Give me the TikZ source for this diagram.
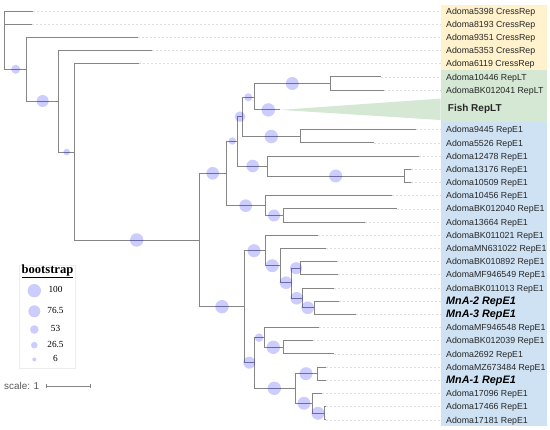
\documentclass[tikz,border=0pt]{standalone}
\usepackage{fontspec}
\setmainfont{Liberation Sans}
\newfontfamily\serifhere{Liberation Serif}
\newcommand\mnfont{\fontsize{10.8}{11}\selectfont\bfseries\itshape\color{black}}
\definecolor{yel}{HTML}{FFF2CC}
\definecolor{grn}{HTML}{D5E8D4}
\definecolor{blu}{HTML}{CFE2F3}
\definecolor{brc}{HTML}{858585}
\begin{document}
\begin{tikzpicture}[x=1pt,y=-1pt,
 branch/.style={draw=brc,line width=0.9pt},
 leader/.style={draw=black!13,line width=0.6pt,dash pattern=on 2pt off 2pt},
 bubble/.style={circle,fill=blue,fill opacity=0.2,inner sep=0pt,minimum size=#1},
 lab/.style={anchor=west,inner xsep=5.3pt,inner ysep=0pt,text height=6.3pt,text depth=0pt,font=\fontsize{8.8}{9}\selectfont,text=black!85},
 legnum/.style={font=\serifhere\fontsize{9.3}{10}\selectfont,inner sep=0pt,text height=4.5pt,text depth=0pt},
]
\useasboundingbox (0,0) rectangle (550,430);
% label backgrounds
\fill[yel] (440.7,5) rectangle (546.7,70);
\fill[grn] (440.7,70) rectangle (546.7,122);
\fill[blu] (440.7,122) rectangle (546.7,426);
% internal nodes
\coordinate (R0) at (4.7,40);
\coordinate (A) at (26.3,69.3);
\coordinate (B) at (58.7,101);
\coordinate (C) at (74.3,152);
\coordinate (D) at (199.3,240);
\coordinate (E) at (226.7,173.3);
\coordinate (F) at (237.7,141);
\coordinate (G) at (242.3,116.7);
\coordinate (H) at (254,97.3);
\coordinate (I) at (330.7,83.5);
\coordinate (fish) at (280,109.9);
\coordinate (J) at (300.7,136.3);
\coordinate (K) at (267.3,166);
\coordinate (L) at (404,176);
\coordinate (M) at (265,205.7);
\coordinate (N) at (283.3,215.5);
\coordinate (O) at (244.3,306.7);
\coordinate (W) at (265,250.7);
\coordinate (X) at (280,265.7);
\coordinate (Y) at (291,282.7);
\coordinate (Z) at (300.7,268.2);
\coordinate (AA) at (302.3,298.3);
\coordinate (AB) at (314.3,307.8);
\coordinate (P) at (254,362.7);
\coordinate (Q) at (264,337.7);
\coordinate (R) at (283.3,347.3);
\coordinate (S) at (295,388.3);
\coordinate (T) at (317.7,373.7);
\coordinate (U) at (312.7,403.3);
\coordinate (V) at (324,413.3);
% fish wedge
\fill[grn] (fish) -- (440.7,98.6) -- (440.7,120) -- cycle;
\node[anchor=west,inner sep=0pt,text height=7pt,text depth=0pt,font=\fontsize{10}{11}\selectfont\bfseries,text=black!85] (fishlab) at (447.7,108.3) {Fish RepLT};
% leaves and labels
\foreach \i/\k/\x/\t in {
0/0/33.3/Adoma5398 CressRep,
1/1/31.7/Adoma8193 CressRep,
2/2/137.7/Adoma9351 CressRep,
3/3/151.7/Adoma5353 CressRep,
4/4/139.3/Adoma6119 CressRep,
5/5/381/Adoma10446 RepLT,
6/6/384.3/AdomaBK012041 RepLT,
7/9/416/Adoma9445 RepE1,
8/10/374.3/Adoma5526 RepE1,
9/11/419/Adoma12478 RepE1,
10/12/410.7/Adoma13176 RepE1,
11/13/410.7/Adoma10509 RepE1,
12/14/391.7/Adoma10456 RepE1,
13/15/397.3/AdomaBK012040 RepE1,
14/16/365/Adoma13664 RepE1,
15/17/317.7/AdomaBK011021 RepE1,
16/18/325.7/AdomaMN631022 RepE1,
17/19/336.7/AdomaBK010892 RepE1,
18/20/338.3/AdomaMF946549 RepE1,
19/21/334/AdomaBK011013 RepE1,
20/22/339.3/{\mnfont MnA-2 RepE1},
21/23/355.7/{\mnfont MnA-3 RepE1},
22/24/319.3/AdomaMF946548 RepE1,
23/25/312.7/AdomaBK012039 RepE1,
24/26/334/Adoma2692 RepE1,
25/27/325.7/AdomaMZ673484 RepE1,
26/28/325.7/{\mnfont MnA-1 RepE1},
27/29/321.7/Adoma17096 RepE1,
28/30/326/Adoma17466 RepE1,
29/31/326/Adoma17181 RepE1}{
  \coordinate (l\i) at (\x,{11+13.19*\k});
  \node[lab] (t\i) at (440.7,{11+13.19*\k}) {\t};
  \draw[leader] (l\i) -- (t\i.west);
}
% branches
\foreach \p/\c in {R0/l0,R0/l1,R0/A,A/l2,A/B,B/l3,B/C,C/l4,C/D,D/E,D/O,E/F,E/M,F/G,F/K,G/H,G/J,H/I,H/fish,I/l5,I/l6,J/l7,J/l8,K/l9,K/L,L/l10,L/l11,M/l12,M/N,N/l13,N/l14,O/W,O/P,W/l15,W/X,X/l16,X/Y,Y/Z,Y/AA,Z/l17,Z/l18,AA/l19,AA/AB,AB/l20,AB/l21,P/Q,P/S,Q/l22,Q/R,R/l23,R/l24,S/T,S/U,T/l25,T/l26,U/l27,U/V,V/l28,V/l29}{
  \draw[branch] (\p) |- (\c);
}
% bootstrap bubbles
\foreach \n/\x/\y/\r in {1/15.7/69.3/4.5,2/42.7/101/6,3/66.7/152/3.3,4/136.7/240/6.7,5/212.7/173.3/6.3,6/222/306.7/6.7,7/232.3/141/3.7,8/245.7/205.7/6.3,9/240/116.7/5.3,10/252.7/166/6.3,11/248.3/97.3/4,12/271.3/136.5/6.7,13/292.3/83.5/6.5,14/268.3/109.9/6.7,15/335.7/176/6.5,16/274/215.5/6,17/254/250.7/6.5,18/249.3/362.7/6,19/272.3/265.7/6.5,20/286/282.7/6.3,21/296/268.2/6,22/296.7/298.3/6.3,23/307.7/307.8/6.3,24/259/337.7/4.3,25/273.3/347.3/6.7,26/274.3/388.3/6.7,27/306/373.7/6.5,28/304/403.3/6.5,29/318/413.3/6.5}{
  \node[bubble=2*\r pt] (bb\n) at (\x,\y) {};
}
% legend
\draw[black!7,line width=0.5pt] (19,265) rectangle (75,368.3);
\node[font=\serifhere\bfseries\fontsize{12.6}{13}\selectfont,inner sep=0pt] (bt) at (47.5,271) {\underline{bootstrap}};
\foreach \n/\y/\r/\v in {1/290.7/6.7/100,2/311.3/6/76.5,3/329.5/4.3/53,4/345.2/3.3/26.5,5/359.5/2/6}{
  \node[bubble=2*\r pt] (lg\n) at (34.3,\y) {};
  \node[legnum] (lv\n) at (55.5,\y) {\v};
}
% scale
\node[anchor=west,inner sep=0pt,text height=7pt,text depth=0pt,font=\fontsize{9.9}{10}\selectfont,text=black!65] (sc) at (4,386.3) {scale: 1};
\coordinate (s1) at (46.7,386.3);
\coordinate (s2) at (90,386.3);
\coordinate (sm) at (68.3,386.3);
\draw[brc,line width=0.6pt] (s1) -- (s2);
\draw[brc,line width=0.6pt] ([yshift=-2.2pt]s1) -- ([yshift=2.2pt]s1);
\draw[brc,line width=0.6pt] ([yshift=-2.2pt]s2) -- ([yshift=2.2pt]s2);
\draw[brc,line width=0.6pt] (sm) -- ([yshift=-1.2pt]sm);
\end{tikzpicture}
\end{document}
